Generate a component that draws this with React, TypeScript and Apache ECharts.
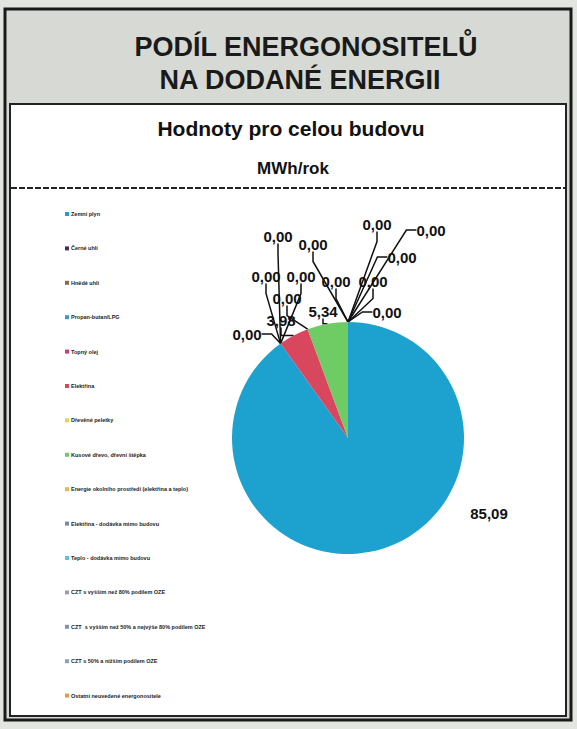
import React, { useEffect, useRef } from "react";
import * as echarts from "echarts";

const mainTitle = ["PODÍL ENERGONOSITELŮ", "NA DODANÉ ENERGII"];
const subTitle = "Hodnoty pro celou budovu";
const unitTitle = "MWh/rok";

const categories = [
  "Zemní plyn",
  "Černé uhlí",
  "Hnědé uhlí",
  "Propan-butan/LPG",
  "Topný olej",
  "Elektřina",
  "Dřevěné peletky",
  "Kusové dřevo, dřevní štěpka",
  "Energie okolního prostředí (elektřina a teplo)",
  "Elektřina - dodávka mimo budovu",
  "Teplo - dodávka mimo budovu",
  "CZT s vyšším než 80% podílem OZE",
  "CZT  s vyšším než 50% a nejvýše 80% podílem OZE",
  "CZT s 50% a nižším podílem OZE",
  "Ostatní neuvedené energonositele",
];

const values = [85.09, 0, 0, 0, 0, 3.98, 0, 5.34, 0, 0, 0, 0, 0, 0, 0];

const colors = [
  "#1da2cf",
  "#3b3357",
  "#8a6a4a",
  "#3d9bb9",
  "#c2407c",
  "#d9475f",
  "#e2d44a",
  "#6fcb63",
  "#e8b84a",
  "#6f8fa8",
  "#5cc3d8",
  "#9aa0a6",
  "#7f96b0",
  "#8aa2bc",
  "#e09a4a",
];

// Where the value labels sit (Excel "best fit" placement), in page pixels.
const labelSpots: [number, number][] = [
  [489, 513],
  [278, 236],
  [266, 276],
  [301, 276],
  [247, 334],
  [281, 320],
  [287, 298],
  [323, 311],
  [313, 244],
  [377, 224],
  [431, 230],
  [402, 257],
  [336, 281],
  [373, 281],
  [387, 312],
];

const FONT = "'Liberation Sans', Arial, sans-serif";

export default function App() {
  const ref = useRef<HTMLDivElement>(null);

  useEffect(() => {
    if (!ref.current) return;
    const chart = echarts.init(ref.current, undefined, { renderer: "svg" });
    const fmt = (v: number) => v.toFixed(2).replace(".", ",");

    chart.setOption({
      animation: false,
      backgroundColor: "#e3e5e1",
      color: colors,
      graphic: [
        { type: "rect", shape: { x: 5, y: 9, width: 566, height: 711 }, style: { fill: "#d7dad4", stroke: "#1a1a1a", lineWidth: 3 }, z: 0 },
        { type: "rect", shape: { x: 10, y: 104, width: 556, height: 612 }, style: { fill: "#ffffff", stroke: "#222", lineWidth: 2 }, z: 1 },
        { type: "text", x: 306, y: 47, style: { text: mainTitle[0], fill: "#1a1a1a", font: `bold 27px ${FONT}`, align: "center", verticalAlign: "middle" }, z: 2 },
        { type: "text", x: 300, y: 80, style: { text: mainTitle[1], fill: "#1a1a1a", font: `bold 27px ${FONT}`, align: "center", verticalAlign: "middle" }, z: 2 },
        { type: "text", x: 291, y: 128, style: { text: subTitle, fill: "#111", font: `bold 21px ${FONT}`, align: "center", verticalAlign: "middle" }, z: 2 },
        { type: "text", x: 293, y: 168, style: { text: unitTitle, fill: "#111", font: `bold 17px ${FONT}`, align: "center", verticalAlign: "middle" }, z: 2 },
        { type: "line", shape: { x1: 11, y1: 188, x2: 565, y2: 188 }, style: { stroke: "#222", lineWidth: 2, lineDash: [6, 2] }, z: 2 },
      ],
      legend: {
        orient: "vertical",
        left: 60,
        top: 206,
        itemWidth: 4,
        itemHeight: 4,
        itemGap: 28.4,
        icon: "rect",
        textStyle: { fontSize: 5.5, fontWeight: "bold", color: "#222", fontFamily: FONT, lineHeight: 6, padding: [0, 0, 0, -3] },
        data: categories,
        z: 3,
      },
      series: [
        {
          type: "pie",
          center: [348, 438],
          radius: 116,
          startAngle: 90,
          clockwise: true,
          z: 3,
          avoidLabelOverlap: false,
          data: categories.map((name, i) =>
            i === 0
              ? { name, value: values[i], labelLine: { show: false } }
              : { name, value: values[i] }
          ),
          label: {
            show: true,
            position: "outside",
            formatter: (p: any) => fmt(p.value),
            fontSize: 15,
            fontWeight: "bold",
            fontFamily: FONT,
            color: "#111",
          },
          labelLine: { show: true, length: 10, length2: 10, lineStyle: { color: "#111", width: 1.5 } },
          labelLayout: (params: any) => {
            const s = labelSpots[params.dataIndex];
            return { x: s[0], y: s[1], align: "center", verticalAlign: "middle" };
          },
          itemStyle: { borderWidth: 0 },
          emphasis: { disabled: true },
        },
      ],
    });

    return () => chart.dispose();
  }, []);

  return <div ref={ref} style={{ position: "fixed", left: 0, top: 0, width: 577, height: 729 }} />;
}
